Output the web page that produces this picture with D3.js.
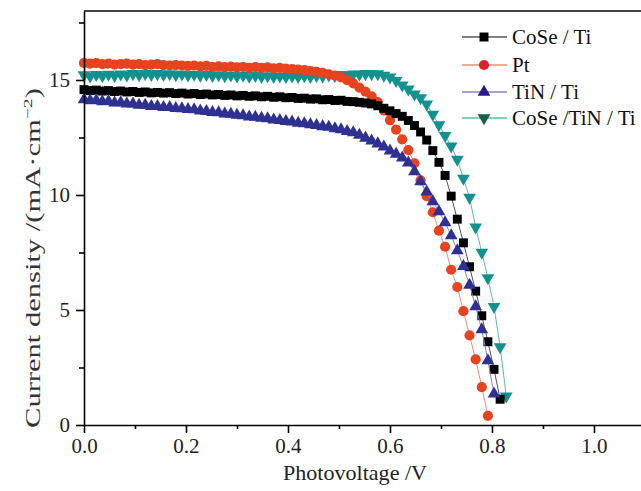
<!DOCTYPE html>
<html lang="en">
<head>
<meta charset="UTF-8">
<script src="https://d3js.org/d3.v7.min.js"></script>
<style>
  body { margin: 0; background: #fff; }
  text { font-family: "Liberation Serif", "Times New Roman", serif; }
</style>
</head>
<body>
<script>
// voltage grid (V), shared by all series
const voltage = [0.000, 0.012, 0.024, 0.036, 0.048, 0.060, 0.072, 0.084, 0.096, 0.108,
  0.120, 0.132, 0.144, 0.156, 0.168, 0.180, 0.192, 0.204, 0.216, 0.228,
  0.240, 0.252, 0.264, 0.276, 0.288, 0.300, 0.312, 0.324, 0.336, 0.348,
  0.360, 0.372, 0.384, 0.396, 0.408, 0.420, 0.432, 0.444, 0.456, 0.468,
  0.480, 0.492, 0.504, 0.516, 0.528, 0.540, 0.552, 0.564, 0.576, 0.588,
  0.600, 0.612, 0.624, 0.636, 0.648, 0.660, 0.672, 0.684, 0.696, 0.708,
  0.720, 0.732, 0.744, 0.756, 0.768, 0.780, 0.792, 0.804, 0.816, 0.828];

// current density (mA/cm2)
const jCoSeTi = [14.58, 14.54, 14.56, 14.52, 14.54, 14.50, 14.52, 14.48, 14.50, 14.46,
  14.48, 14.44, 14.46, 14.43, 14.45, 14.41, 14.43, 14.39, 14.41, 14.37,
  14.39, 14.35, 14.37, 14.33, 14.35, 14.31, 14.33, 14.29, 14.31, 14.27,
  14.29, 14.25, 14.27, 14.23, 14.24, 14.20, 14.21, 14.17, 14.18, 14.14,
  14.15, 14.11, 14.12, 14.07, 14.06, 14.03, 14.00, 13.96, 13.88, 13.77,
  13.66, 13.54, 13.42, 13.24, 13.02, 12.74, 12.39, 11.93, 11.42, 10.85,
  9.95, 8.95, 7.92, 6.88, 5.82, 4.75, 3.62, 2.42, 1.12];

const jPt = [15.74, 15.71, 15.73, 15.69, 15.71, 15.67, 15.69, 15.71, 15.67, 15.69,
  15.65, 15.67, 15.69, 15.65, 15.63, 15.65, 15.63, 15.61, 15.63, 15.59,
  15.61, 15.57, 15.59, 15.56, 15.58, 15.55, 15.57, 15.53, 15.56, 15.53,
  15.55, 15.51, 15.53, 15.49, 15.47, 15.45, 15.43, 15.39, 15.35, 15.31,
  15.25, 15.19, 15.11, 14.99, 14.85, 14.67, 14.49, 14.29, 14.04, 13.68,
  13.26, 12.84, 12.42, 11.95, 11.38, 10.64, 9.95, 9.25, 8.45, 7.75,
  6.75, 6.00, 4.95, 3.90, 2.85, 1.65, 0.40];

const jTiNTi = [14.15, 14.10, 14.12, 14.06, 14.07, 14.01, 14.02, 13.96, 13.96, 13.91,
  13.91, 13.86, 13.86, 13.81, 13.81, 13.77, 13.76, 13.72, 13.71, 13.66,
  13.64, 13.59, 13.58, 13.53, 13.52, 13.47, 13.45, 13.40, 13.39, 13.34,
  13.32, 13.27, 13.25, 13.20, 13.18, 13.13, 13.11, 13.06, 13.03, 12.98,
  12.95, 12.89, 12.84, 12.77, 12.71, 12.60, 12.48, 12.36, 12.23, 12.09,
  11.92, 11.78, 11.62, 11.40, 11.02, 10.58, 10.14, 9.71, 9.28, 8.80,
  8.24, 7.58, 6.90, 6.08, 5.15, 4.15, 2.80, 1.35];

const jCoSeTiNTi = [15.22, 15.17, 15.23, 15.18, 15.24, 15.19, 15.25, 15.21, 15.27, 15.22,
  15.27, 15.23, 15.27, 15.23, 15.26, 15.22, 15.25, 15.21, 15.24, 15.20,
  15.23, 15.19, 15.22, 15.18, 15.21, 15.17, 15.20, 15.16, 15.19, 15.15,
  15.18, 15.14, 15.17, 15.14, 15.17, 15.14, 15.18, 15.15, 15.19, 15.17,
  15.21, 15.19, 15.23, 15.21, 15.25, 15.24, 15.27, 15.26, 15.26, 15.20,
  15.12, 14.97, 14.78, 14.60, 14.38, 14.22, 13.95, 13.50, 13.05, 12.58,
  12.12, 11.55, 10.72, 9.90, 8.60, 7.50, 6.40, 5.15, 3.40, 1.25];

const seriesNames = ["CoSe / Ti", "Pt", "TiN / Ti", "CoSe /TiN / Ti"];
const xTicks = [0, 0.2, 0.4, 0.6, 0.8, 1.0];
const xMinor = [0.1, 0.3, 0.5, 0.7, 0.9];
const yTicks = [0, 5, 10, 15];
const yMinor = [2.5, 7.5, 12.5, 17.5];

const W = 641, H = 491;
const svg = d3.select("body").append("svg")
  .attr("width", W).attr("height", H);

const x = d3.scaleLinear().domain([0, 1.0922]).range([84, 641]);
const y = d3.scaleLinear().domain([0, 18]).range([425, 11]);

// series styles
const series = [
  { name: seriesNames[3], j: jCoSeTiNTi, fill: "#13918f", line: "#5fb8b0",
    legFill: "#1b5e48", sym: d3.symbolTriangle, size: 70, rot: 180 },
  { name: seriesNames[1], j: jPt, fill: "#e8421f", line: "#f08a78",
    legFill: "#e0202a", sym: d3.symbolCircle, size: 82, rot: 0 },
  { name: seriesNames[0], j: jCoSeTi, fill: "#000000", line: "#555555",
    legFill: "#000000", sym: d3.symbolSquare, size: 80, rot: 0 },
  { name: seriesNames[2], j: jTiNTi, fill: "#2e3192", line: "#8a80c8",
    legFill: "#2a1a8c", sym: d3.symbolTriangle, size: 70, rot: 0 }
];

const line = d3.line().x(d => x(d[0])).y(d => y(d[1]));

series.forEach(s => {
  const pts = s.j.map((v, i) => [voltage[i], v]);
  svg.append("path")
    .datum(pts)
    .attr("d", line)
    .attr("fill", "none")
    .attr("stroke", s.line)
    .attr("stroke-width", 1);
  svg.append("g").selectAll("path")
    .data(pts)
    .enter().append("path")
    .attr("d", d3.symbol().type(s.sym).size(s.size))
    .attr("transform", d => `translate(${x(d[0])},${y(d[1])}) rotate(${s.rot})`)
    .attr("fill", s.fill);
});

// top frame line
svg.append("line")
  .attr("x1", x(0)).attr("x2", W)
  .attr("y1", y(18)).attr("y2", y(18))
  .attr("stroke", "#000").attr("stroke-width", 1.6);

// axes
svg.append("g")
  .attr("transform", `translate(0,${y(0)})`)
  .call(d3.axisBottom(x).tickValues(xTicks).tickFormat(d3.format(".1f"))
    .tickSize(8).tickSizeOuter(0).tickPadding(5));
svg.append("g")
  .attr("transform", `translate(0,${y(0)})`)
  .call(d3.axisBottom(x).tickValues(xMinor).tickFormat("").tickSize(4).tickSizeOuter(0))
  .select(".domain").remove();

svg.append("g")
  .attr("transform", `translate(${x(0)},0)`)
  .call(d3.axisLeft(y).tickValues(yTicks).tickSize(8).tickSizeOuter(0).tickPadding(6));
svg.append("g")
  .attr("transform", `translate(${x(0)},0)`)
  .call(d3.axisLeft(y).tickValues(yMinor).tickFormat("").tickSize(5).tickSizeOuter(0))
  .select(".domain").remove();

svg.selectAll(".domain, .tick line").attr("stroke", "#000").attr("stroke-width", 1.6);
svg.selectAll(".tick text")
  .attr("font-family", "Liberation Serif, serif")
  .attr("font-size", 21)
  .attr("fill", "#222");

// axis titles
svg.append("text")
  .attr("x", 355).attr("y", 480)
  .attr("text-anchor", "middle")
  .attr("font-size", 21)
  .attr("textLength", 144)
  .attr("lengthAdjust", "spacingAndGlyphs")
  .attr("fill", "#222")
  .text("Photovoltage  /V");

const yt = svg.append("text")
  .attr("transform", "translate(40,258) rotate(-90)")
  .attr("text-anchor", "middle")
  .attr("font-size", 20)
  .attr("textLength", 340)
  .attr("lengthAdjust", "spacingAndGlyphs")
  .attr("fill", "#333");
yt.append("tspan").text("Current density /(mA\u00b7cm");
yt.append("tspan").attr("dy", -8).attr("font-size", 13).text("\u22122");
yt.append("tspan").attr("dy", 8).text(")");

// legend
const legOrder = [2, 1, 3, 0];
const legend = svg.append("g").selectAll("g")
  .data(legOrder.map(i => series[i]))
  .enter().append("g")
  .attr("transform", (d, i) => `translate(0,${[37, 65, 92, 118][i]})`);

legend.append("line")
  .attr("x1", 462).attr("x2", 507)
  .attr("stroke", d => d.line).attr("stroke-width", 1.4);
legend.append("path")
  .attr("d", d => d3.symbol().type(d.sym).size(d.size)())
  .attr("transform", d => `translate(484,0) rotate(${d.rot})`)
  .attr("fill", d => d.legFill);
legend.append("text")
  .attr("x", 512).attr("dy", "0.35em")
  .attr("font-size", 21)
  .attr("fill", "#111")
  .text(d => d.name);
</script>
</body>
</html>
